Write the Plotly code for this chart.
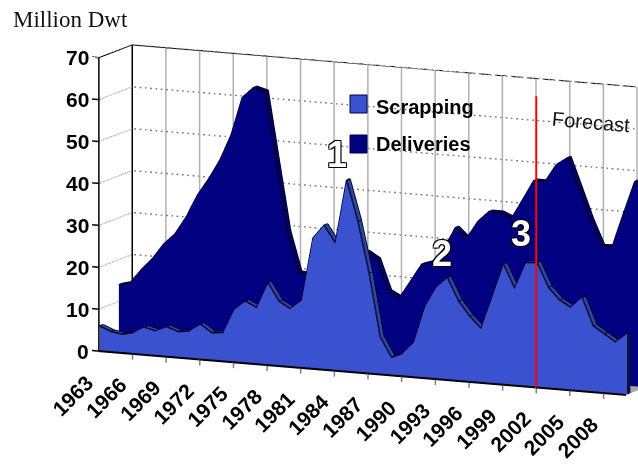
import plotly.graph_objects as go

years = list(range(1963, 2011))
scrapping = [5.9,4.8,4.4,5.0,6.5,5.8,7.0,6.1,6.5,8.3,6.5,6.8,12.5,14.7,13.4,19.5,15.3,13.8,16.0,31.1,34.4,30.4,45.6,36.1,23.9,8.8,4.2,5.4,8.2,17.0,21.8,24.3,18.9,15.5,12.9,20.7,28.6,23.1,29.5,29.7,24.0,21.2,19.7,22.3,15.7,14.0,12.3,14.5]
deliveries = [14.0,14.7,18.0,20.9,24.6,27.2,31.5,36.9,41.0,45.7,51.9,61.1,63.7,63.0,46.4,30.0,20.5,20.2,18.0,17.0,16.0,16.0,26.8,25.2,17.8,16.4,20.6,24.9,25.8,29.1,34.3,31.9,36.2,38.8,38.8,37.6,42.3,47.1,47.1,51.3,53.2,46.1,38.9,32.8,33.0,41.1,48.9,44.4]
year_ticks = list(range(1963, 2009, 3))
value_ticks = list(range(0, 71, 10))
forecast_year = 2002

C_S, C_S_TOP = "#3A52D0", "#2C479F"
C_D, C_D_TOP = "#000080", "#00006A"
FONT = "Liberation Sans, Arial"
FLAT = dict(ambient=1, diffuse=0, specular=0, fresnel=0, roughness=1)

def strip(xs, ya, za, yb, zb, color):
    vx, vy, vz, i, j, k = [], [], [], [], [], []
    for n, x in enumerate(xs):
        vx += [x, x]; vy += [ya, yb]; vz += [za[n], zb[n]]
    for n in range(len(xs) - 1):
        a = 2 * n
        i += [a, a + 1]; j += [a + 1, a + 3]; k += [a + 2, a + 2]
    return go.Mesh3d(x=vx, y=vy, z=vz, i=i, j=j, k=k, color=color, flatshading=True, lighting=FLAT, hoverinfo="skip")

def solid(xs, vals, y0, y1, face, top):
    zero = [0] * len(xs)
    yield strip(xs, y0, vals, y0, zero, face)
    yield strip(xs, y0, vals, y1, vals, top)
    yield go.Mesh3d(x=[xs[-1]] * 4, y=[y0, y0, y1, y1], z=[vals[-1], 0, 0, vals[-1]], i=[0, 0], j=[1, 2], k=[2, 3],
                    color="#10103A", flatshading=True, lighting=FLAT, hoverinfo="skip")
    lx, ly, lz = [], [], []
    for y in (y0, y1):
        lx += list(xs) + [None]; ly += [y] * len(xs) + [None]; lz += list(vals) + [None]
    for n, x in enumerate(xs):
        lx += [x, x, None]; ly += [y0, y1, None]; lz += [vals[n], vals[n], None]
    yield go.Scatter3d(x=lx, y=ly, z=lz, mode="lines", line=dict(color="#000020", width=3), hoverinfo="skip", showlegend=False)

def segs(points, color, width, dash="solid"):
    return go.Scatter3d(x=[p[0] for p in points], y=[p[1] for p in points], z=[p[2] for p in points], mode="lines",
                        line=dict(color=color, width=width, dash=dash), hoverinfo="skip", showlegend=False)

traces = []
x0, x1 = years[0], years[-1]
traces.append(go.Mesh3d(x=[x0, x1, x1, x0], y=[0, 0, 1, 1], z=[0, 0, 0, 0], i=[0, 0], j=[1, 2], k=[2, 3], color="#A8A8A8",
                        flatshading=True, lighting=FLAT, hoverinfo="skip"))
for t in value_ticks[1:]:
    traces.append(segs([(x0, 0, t), (x0, 1, t), (x1, 1, t)], "#808080", 3, "dot"))
for t in year_ticks[1:] + [x1]:
    traces.append(segs([(t, 1, 0), (t, 1, 70)], "#B0B0B0", 3))
traces.append(segs([(x0, 0, 70), (x0, 1, 70), (x1, 1, 70)], "#000000", 2))
traces.append(segs([(x0, 1, 0), (x0, 1, 70)], "#000000", 3))
traces.append(segs([(x0, 0, 0), (x0, 0, 70)], "#000000", 3))
traces.append(segs([(x0, 0, 0), (x1, 0, 0)], "#000000", 4))
for t in value_ticks:
    traces.append(segs([(x0, 0, t), (x0 - 0.6, 0, t)], "#000000", 3))
for t in year_ticks[1:]:
    traces.append(segs([(t, 0, 0), (t, 0, -1.4)], "#808080", 3))
traces.extend(solid(years, deliveries, 0.6, 0.7, C_D, C_D_TOP))
traces.extend(solid(years, scrapping, 0.03, 0.13, C_S, C_S_TOP))
traces.append(segs([(forecast_year, 0, 0), (forecast_year, 0, 69.5)], "#FF0000", 4))

tick_font = dict(family=FONT, size=21, color="#000000", weight="bold")
legend_font = dict(family=FONT, size=20, color="#000000", weight="bold")
scene_notes = [dict(x=v, y=0, z=0, text=str(v), showarrow=False, textangle=-45, xshift=-26, yshift=-44, font=tick_font) for v in year_ticks]
scene_notes += [dict(x=x0, y=0, z=v, text=str(v), showarrow=False, xanchor="right", xshift=-8, font=tick_font) for v in value_ticks]

OUT = "1px 1px 0 #000,-1px -1px 0 #000,1px -1px 0 #000,-1px 1px 0 #000"
def page(x, y, text, font, anchor="center", angle=0):
    return dict(x=x / 638, y=1 - y / 465, xref="paper", yref="paper", xanchor=anchor, yanchor="middle", showarrow=False,
                text=text, textangle=angle, font=font)

big = dict(family=FONT, size=36, color="#FFFFFF", weight="bold", shadow=OUT)
fig = go.Figure(traces)
cx, cy, cz = -0.218, -0.1105, -0.041
d = 1.55
fig.update_layout(
    width=638, height=465, margin=dict(l=0, r=0, t=0, b=0), showlegend=False, paper_bgcolor="#FFFFFF",
    scene=dict(
        domain=dict(x=[0, 1], y=[0, 1]),
        aspectmode="manual", aspectratio=dict(x=2.534, y=0.34, z=1.31),
        camera=dict(projection=dict(type="orthographic"),
                    center=dict(x=cx, y=cy, z=cz),
                    eye=dict(x=cx + 0.42 * d, y=cy - 0.90 * d, z=cz + 0.18 * d)),
        xaxis=dict(range=[1962.4, 2010], visible=False, showspikes=False),
        yaxis=dict(range=[0, 1], visible=False, showspikes=False),
        zaxis=dict(range=[-1.5, 70], visible=False, showspikes=False),
        annotations=scene_notes,
    ),
    annotations=[
        page(11, 20, "Million Dwt", dict(family="Liberation Serif", size=23, color="#111111"), "left"),
        page(374, 107, "Scrapping", legend_font, "left"),
        page(374, 144, "Deliveries", legend_font, "left"),
        page(591, 122, "Forecast", dict(family=FONT, size=20, color="#111111"), "center", 5),
        page(337, 155, "1", big), page(442, 253, "2", big), page(521, 233, "3", big),
    ],
    shapes=[
        dict(type="rect", xref="paper", yref="paper", x0=350 / 638, x1=367 / 638, y0=1 - 113 / 465, y1=1 - 95 / 465, fillcolor=C_S, line=dict(color="#000040", width=1)),
        dict(type="rect", xref="paper", yref="paper", x0=350 / 638, x1=367 / 638, y0=1 - 153 / 465, y1=1 - 135 / 465, fillcolor=C_D, line=dict(color="#000040", width=1)),
    ],
)
fig.write_html("out.html", post_script="document.body.style.margin='0';", config=dict(displayModeBar=False))
